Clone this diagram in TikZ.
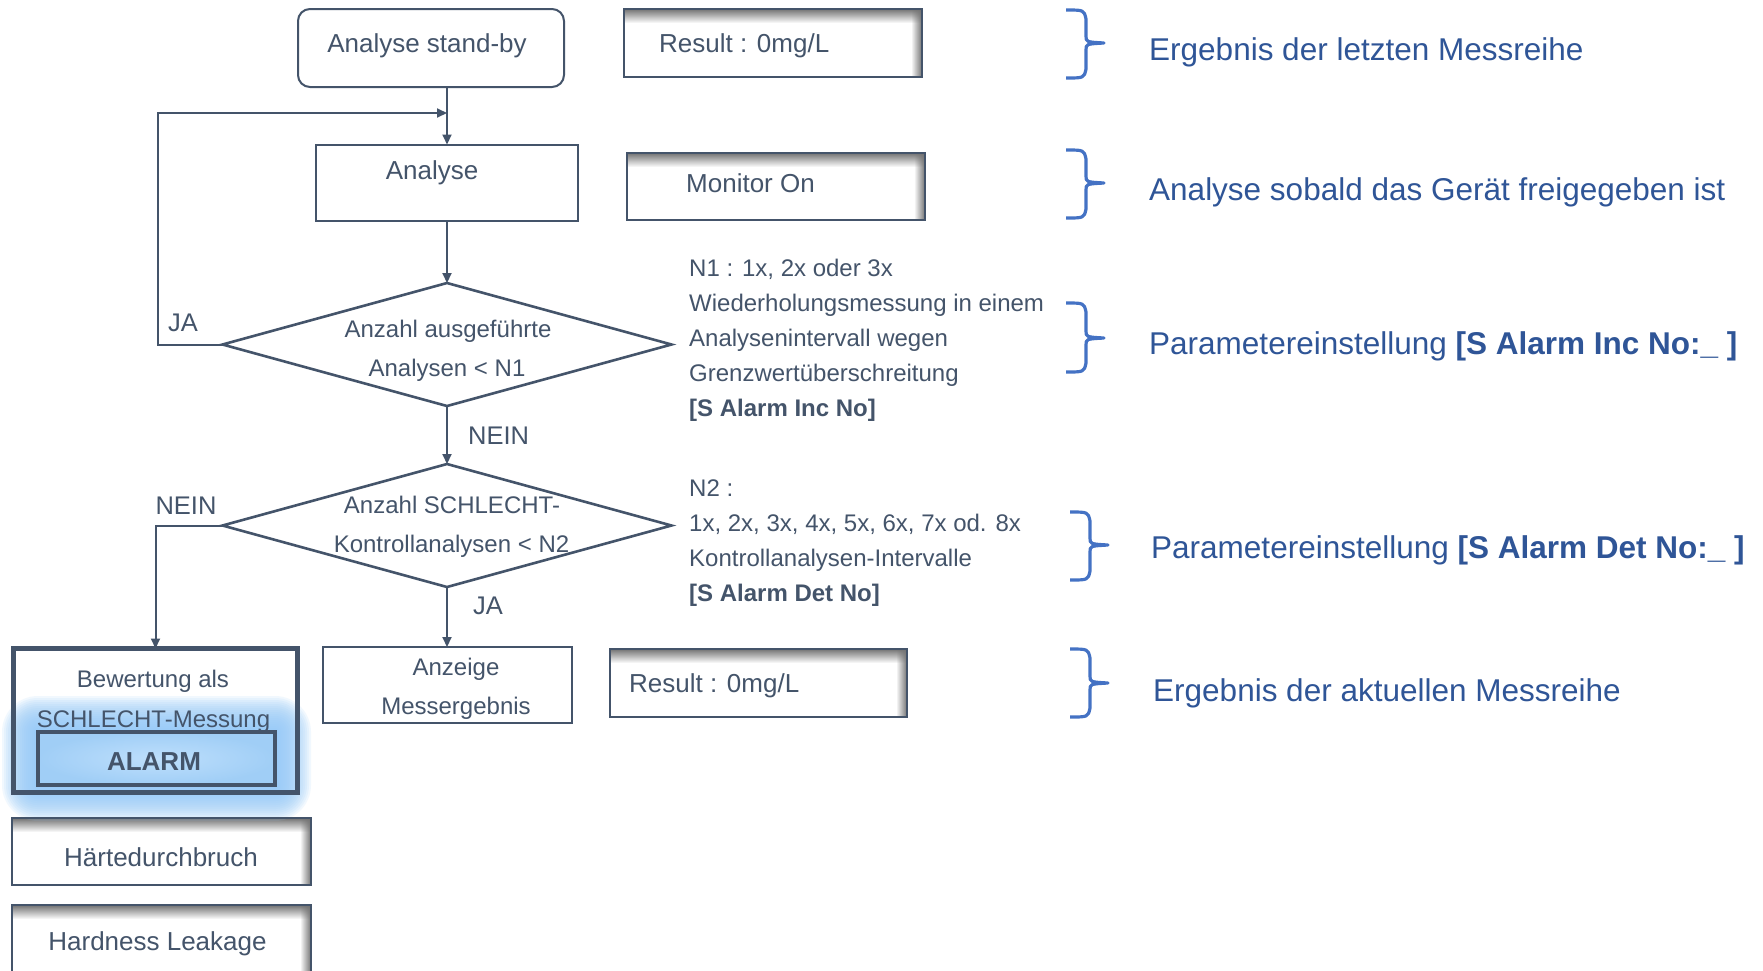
\documentclass[tikz,border=0pt]{standalone}
\usepackage{fontspec}
\setmainfont{Liberation Sans}
\usetikzlibrary{shapes.geometric,arrows.meta,fadings,calc}

\definecolor{ink}{HTML}{44546A}
\definecolor{noteblue}{HTML}{2F5597}
\definecolor{braceblue}{HTML}{4472C4}
\definecolor{glowblue}{RGB}{150,202,248}
\definecolor{alarmfill}{RGB}{160,206,246}
\definecolor{alarmcore}{RGB}{190,223,252}

\pgfdeclarelayer{paper}
\pgfdeclarelayer{halo}
\pgfsetlayers{paper,halo,main}

% inner shadow along the top and right edge of a box
\newcommand{\insetshadow}[1]{%
  \fill[black!55, path fading=south] (#1.north west) rectangle ($(#1.north east)+(0,14)$);
  \fill[black!55, path fading=west] ($(#1.north east)+(-11,0)$) rectangle (#1.south east);
}

% right curly brace: spine x, top y, tip y, bottom y
\newcommand{\drawbrace}[4]{%
  \draw[bracestyle] (#1-20,#2) .. controls (#1-2,#2) .. (#1,#2+9) -- (#1,#3-7)
    .. controls (#1,#3-1) .. (#1+18,#3) .. controls (#1,#3+1) .. (#1,#3+7)
    -- (#1,#4-9) .. controls (#1-2,#4) .. (#1-20,#4);
}

\tikzset{
  box/.style={draw=ink, line width=2pt, inner sep=0pt, outer sep=0pt},
  decision/.style={diamond, draw=ink, line width=2.6pt, inner sep=0pt, outer sep=0pt},
  arr/.style={draw=ink, line width=2pt, -{Triangle[length=10pt,width=9pt]}},
  bracestyle/.style={draw=braceblue, line width=3.2pt, line join=round},
  t26/.style={font=\fontsize{26}{31}\selectfont, text=ink, anchor=base, inner sep=0pt},
  t24/.style={font=\fontsize{24}{29}\selectfont, text=ink, anchor=base, inner sep=0pt},
  lbl/.style={font=\fontsize{25.5}{30}\selectfont, text=ink, anchor=base, inner sep=0pt},
  note/.style={font=\fontsize{31.5}{38}\selectfont, text=noteblue, anchor=base west, inner sep=0pt},
}

\begin{document}
\begin{tikzpicture}[x=1pt, y=-1pt]
\useasboundingbox (0,0) rectangle (1763,970);
\clip (0,0) rectangle (1763,970);
\begin{pgfonlayer}{paper}
  \fill[white] (0,0) rectangle (1763,970);
\end{pgfonlayer}

% ---- flow chart boxes ----
\node[box, minimum width=266pt, minimum height=78pt, rounded corners=12pt] (standby) at (431,48) {};
\node[t26] (standbyT) at (427,52) {Analyse stand-by};

\node[box, minimum width=298pt, minimum height=68pt] (res1) at (773,43) {};
\node[t26, anchor=base west] (res1T) at (659,52) {Result : 0mg/L};

\node[box, minimum width=262pt, minimum height=76pt] (analyse) at (447,182.5) {};
\node[t26] (analyseT) at (432,179) {Analyse};

\node[box, minimum width=298pt, minimum height=67pt] (mon) at (776,186.5) {};
\node[t26, anchor=base west] (monT) at (686,192) {Monitor On};

\node[decision, minimum width=449pt, minimum height=123pt] (d1) at (447,344.5) {};
\node[t24] (d1a) at (448,337.5) {Anzahl ausgeführte};
\node[t24] (d1b) at (447,376.5) {Analysen < N1};

\node[decision, minimum width=449pt, minimum height=123pt] (d2) at (447,525.5) {};
\node[t24] (d2a) at (452,513.5) {Anzahl SCHLECHT-};
\node[t24] (d2b) at (451.5,552.5) {Kontrollanalysen < N2};

\node[box, line width=5.5pt, minimum width=284pt, minimum height=144pt] (bew) at (155.5,720.5) {};
\node[t24] (bewA) at (153,687.6) {Bewertung als};
\node[t24] (bewB) at (153.5,727.6) {SCHLECHT-Messung};
\node[box, line width=4pt, inner color=alarmcore, outer color=alarmfill, minimum width=237pt, minimum height=53pt] (alarm) at (156.5,758.5) {};
\node[t26, font={\fontsize{26}{31}\selectfont\bfseries}] (alarmT) at (154,770) {ALARM};

\node[box, minimum width=249pt, minimum height=76pt] (anz) at (447,685) {};
\node[t24] (anzA) at (456,675.6) {Anzeige};
\node[t24] (anzB) at (456,714.6) {Messergebnis};

\node[box, minimum width=297pt, minimum height=68pt] (res3) at (758.5,683) {};
\node[t26, anchor=base west] (res3T) at (629,692) {Result : 0mg/L};

\node[box, minimum width=299pt, minimum height=67pt] (haerte) at (161.5,851.5) {};
\node[t26] (haerteT) at (161,866) {Härtedurchbruch};

\node[box, minimum width=299pt, minimum height=100pt] (hard) at (161.5,955) {};
\node[t26] (hardT) at (157.5,950) {Hardness Leakage};

% ---- shadows and glow ----
\begin{pgfonlayer}{halo}
  \insetshadow{res1}
  \insetshadow{mon}
  \insetshadow{res3}
  \insetshadow{haerte}
  \insetshadow{hard}
  \foreach \g in {2,4,...,36} {
    \fill[glowblue, opacity=0.13, rounded corners=\g pt]
      ($(alarm.north west)+(-\g,-\g)$) rectangle ($(alarm.south east)+(\g,\g)$);
  }
\end{pgfonlayer}

% ---- connectors ----
\coordinate (loopTop) at (158,113);
\draw[arr] (analyse.north |- standby.south) -- (analyse.north);
\draw[arr] (d1.west) -| (loopTop) -- (analyse.north |- loopTop);
\draw[arr] (analyse.south) -- (d1.north);
\draw[arr] (d1.south) -- (d2.north);
\draw[arr] (d2.south) -- (anz.north);
\draw[arr] (d2.west) -| (bew.north);

\node[lbl] (jaTop) at (183,331) {JA};
\node[lbl, anchor=base west] (neinMid) at (468,444) {NEIN};
\node[lbl] (neinLeft) at (186,514) {NEIN};
\node[lbl, anchor=base west] (jaBottom) at (473,614) {JA};

% ---- parameter notes ----
\node[t24, anchor=base west] (n1a) at (689,276.5) {N1 : 1x, 2x oder 3x};
\node[t24, anchor=base west] (n1b) at (689,311.5) {Wiederholungsmessung in einem};
\node[t24, anchor=base west] (n1c) at (689,346.5) {Analysenintervall wegen};
\node[t24, anchor=base west] (n1d) at (689,381.5) {Grenzwertüberschreitung};
\node[t24, anchor=base west, font={\fontsize{24}{29}\selectfont\bfseries}] (n1e) at (689,416.5) {[S Alarm Inc No]};

\node[t24, anchor=base west] (n2a) at (689,496.5) {N2 :};
\node[t24, anchor=base west] (n2b) at (689,531.5) {1x, 2x, 3x, 4x, 5x, 6x, 7x od. 8x};
\node[t24, anchor=base west] (n2c) at (689,566.5) {Kontrollanalysen-Intervalle};
\node[t24, anchor=base west, font={\fontsize{24}{29}\selectfont\bfseries}] (n2d) at (689,601.5) {[S Alarm Det No]};

% ---- braces and explanations ----
\drawbrace{1086}{10}{43}{78}
\drawbrace{1086}{150}{183}{218}
\drawbrace{1086}{303}{338}{372}
\drawbrace{1090}{512}{545}{580}
\drawbrace{1090}{649}{683}{717}

\node[note] (note1) at (1149,60) {Ergebnis der letzten Messreihe};
\node[note] (note2) at (1149,200) {Analyse sobald das Gerät freigegeben ist};
\node[note] (note3) at (1149,354) {Parametereinstellung \textbf{[S Alarm Inc No:\_ ]}};
\node[note] (note4) at (1151,558) {Parametereinstellung \textbf{[S Alarm Det No:\_ ]}};
\node[note] (note5) at (1153,701) {Ergebnis der aktuellen Messreihe};
\end{tikzpicture}
\end{document}
